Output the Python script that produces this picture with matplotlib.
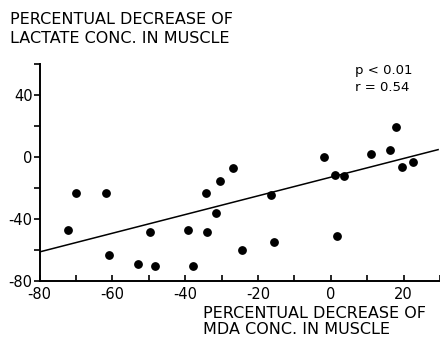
import numpy as np
import matplotlib
matplotlib.use('Agg')
import matplotlib.pyplot as plt

# percentual decrease of MDA (x) vs lactate (y) in muscle
mdaDecrease = [-72.3, -70.0, -61.6, -61.0, -53.0, -49.6, -48.2, -39.1, -37.9,
               -34.2, -34.0, -31.5, -30.3, -26.8, -24.5, -16.4, -15.5, -1.8,
               1.2, 3.6, 1.6, 11.1, 16.2, 18.0, 19.5, 22.6]
lactateDecrease = [-47.0, -22.7, -22.7, -63.0, -68.8, -48.0, -70.0, -47.0, -70.0,
                   -22.7, -48.0, -36.0, -15.0, -7.1, -60.0, -24.2, -54.7, 0.0,
                   -11.5, -11.9, -50.8, 2.0, 4.5, 19.5, -6.5, -3.2]

# regression line
lineX = [-80, 29.5]
lineY = [-61.0, 5.0]

xTicks = [-80, -70, -60, -50, -40, -30, -20, -10, 0, 10, 20, 30]
xTickLabels = ['-80', '', '-60', '', '-40', '', '-20', '', '0', '', '20', '']
yTicks = [-80, -60, -40, -20, 0, 20, 40, 60]
yTickLabels = ['-80', '', '-40', '', '0', '', '40', '']

plt.rcParams['font.family'] = ['DejaVu Sans']

fig = plt.figure(figsize=(4.4, 3.37), dpi=100)
ax = fig.add_axes([0.0898, 0.165, 0.91, 0.644])

ax.plot(mdaDecrease, lactateDecrease, 'o', color='black', markersize=5.3)
ax.plot(lineX, lineY, color='black', linewidth=1.1)

ax.set_xlim(-80, 30)
ax.set_ylim(-80, 60)

ax.spines['top'].set_visible(False)
ax.spines['right'].set_visible(False)
ax.spines['left'].set_linewidth(1.4)
ax.spines['bottom'].set_linewidth(1.4)

ax.set_xticks(xTicks)
ax.set_xticklabels(xTickLabels, fontsize=10.5)
ax.set_yticks(yTicks)
ax.set_yticklabels(yTickLabels, fontsize=10.5)
ax.tick_params(axis='x', direction='in', length=4, width=1.2, pad=4)
ax.tick_params(axis='y', direction='out', length=4, width=1.2, pad=1)

ax.text(0.789, 1.0, 'p < 0.01\nr = 0.54', transform=ax.transAxes,
        fontsize=9.5, va='top', ha='left', linespacing=1.35)

fig.text(0.022, 0.963, 'PERCENTUAL DECREASE OF\nLACTATE CONC. IN MUSCLE',
         fontsize=11.5, va='top', ha='left', linespacing=1.3)
fig.text(0.461, 0.092, 'PERCENTUAL DECREASE OF\nMDA CONC. IN MUSCLE',
         fontsize=11.5, va='top', ha='left', linespacing=1.1)

fig.savefig('out.png', dpi=100)
